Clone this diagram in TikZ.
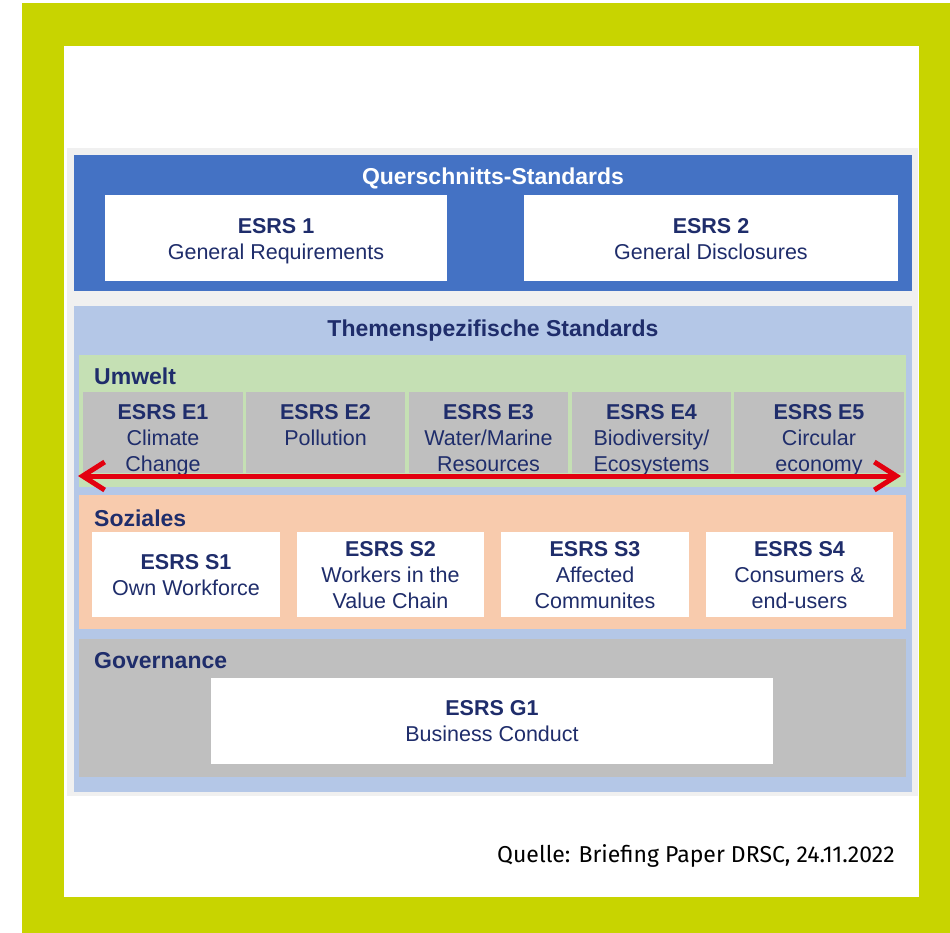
\documentclass[tikz,border=0pt]{standalone}
\usepackage{fontspec}
\setmainfont{Liberation Sans}
\newfontfamily\srcfont{Fira Sans}
\usetikzlibrary{arrows.meta}
\definecolor{lime}{HTML}{C8D400}
\definecolor{qblue}{HTML}{4472C4}
\definecolor{lblue}{HTML}{B4C7E7}
\definecolor{lgreen}{HTML}{C5E0B4}
\definecolor{peach}{HTML}{F8CBAD}
\definecolor{mgray}{HTML}{BFBFBF}
\definecolor{pgray}{HTML}{F0F0F0}
\definecolor{navy}{HTML}{1F2D6B}
\definecolor{arrowred}{HTML}{E3000F}
\tikzset{
  area/.style={anchor=north west, inner sep=0pt, outer sep=0pt, draw=none},
  txt/.style={align=center, anchor=north, text=navy, inner sep=0pt, font=\fontsize{21.5}{26}\selectfont},
  lbl/.style={anchor=west, text=navy, inner sep=0pt, font=\fontsize{23}{26}\selectfont\bfseries},
  ttl/.style={text=navy, inner sep=0pt, font=\fontsize{23}{26}\selectfont\bfseries},
  redarrow/.style={draw=arrowred, line width=5pt, {Straight Barb[length=22pt,width=28pt,line width=5pt]}-{Straight Barb[length=22pt,width=28pt,line width=5pt]}}
}
\newcommand{\rbox}[8]{% name, x1, y1, w, h, fill, text top y, text
  \node[area, fill=#6, minimum width=#4pt, minimum height=#5pt] (#1) at (#2,#3) {};
  \node[txt] (#1t) at (#1.center |- 0,#7) {#8};
}
\begin{document}
\begin{tikzpicture}[x=1pt,y=-1pt]
\useasboundingbox (0,0) rectangle (950,933);
\fill[white] (0,0) rectangle (950,933);
\fill[lime] (22,3) rectangle (950,933);
\fill[white] (64,46) rectangle (919,897);
\fill[pgray] (67,148) rectangle (918,796);
% Querschnitts
\node[area, fill=qblue, minimum width=838pt, minimum height=136pt] (quer) at (74,155) {};
\node[ttl, text=white] (quert) at (493,178) {Querschnitts-Standards};
\rbox{esrs1}{105}{195}{342}{86}{white}{218.5}{\textbf{ESRS 1}\\General Requirements}
\rbox{esrs2}{524}{195}{374}{86}{white}{218.5}{\textbf{ESRS 2}\\General Disclosures}
% Themenspezifisch
\node[area, fill=lblue, minimum width=838pt, minimum height=486pt] (thema) at (74,306) {};
\node[ttl] (themat) at (493,330.5) {Themenspezifische Standards};
% Umwelt
\node[area, fill=lgreen, minimum width=827pt, minimum height=132pt] (umwelt) at (79,355) {};
\node[lbl] (umweltt) at (94,376) {Umwelt};
\rbox{e1}{83}{392}{160}{81}{mgray}{404.5}{\textbf{ESRS E1}\\Climate\\Change}
\rbox{e2}{246}{392}{159}{81}{mgray}{404.5}{\textbf{ESRS E2}\\Pollution}
\rbox{e3}{409}{392}{159}{81}{mgray}{404.5}{\textbf{ESRS E3}\\Water/Marine\\Resources}
\rbox{e4}{572}{392}{159}{81}{mgray}{404.5}{\textbf{ESRS E4}\\Biodiversity/\\Ecosystems}
\rbox{e5}{734}{392}{170}{81}{mgray}{404.5}{\textbf{ESRS E5}\\Circular\\economy}
% Soziales
\node[area, fill=peach, minimum width=827pt, minimum height=134pt] (soz) at (79,495) {};
\node[lbl] (sozt) at (94,518) {Soziales};
\rbox{s1}{92}{532}{188}{85}{white}{554.5}{\textbf{ESRS S1}\\Own Workforce}
\rbox{s2}{297}{532}{187}{85}{white}{541.5}{\textbf{ESRS S2}\\Workers in the\\Value Chain}
\rbox{s3}{501}{532}{188}{85}{white}{541.5}{\textbf{ESRS S3}\\Affected\\Communites}
\rbox{s4}{706}{532}{187}{85}{white}{541.5}{\textbf{ESRS S4}\\Consumers \&\\end-users}
% Governance
\node[area, fill=mgray, minimum width=827pt, minimum height=138pt] (gov) at (79,639) {};
\node[lbl] (govt) at (94,661) {Governance};
\rbox{g1}{211}{678}{562}{86}{white}{700.5}{\textbf{ESRS G1}\\Business Conduct}
% arrow
\coordinate (aL) at (78,476);
\coordinate (aR) at (901,476);
\draw[redarrow] (aL) -- (aR);
% source
\node[anchor=base west, inner sep=0pt, font=\srcfont\fontsize{23}{26}\selectfont] (src) at (497,862) {Quelle: Briefing Paper DRSC, 24.11.2022};
\end{tikzpicture}
\end{document}
